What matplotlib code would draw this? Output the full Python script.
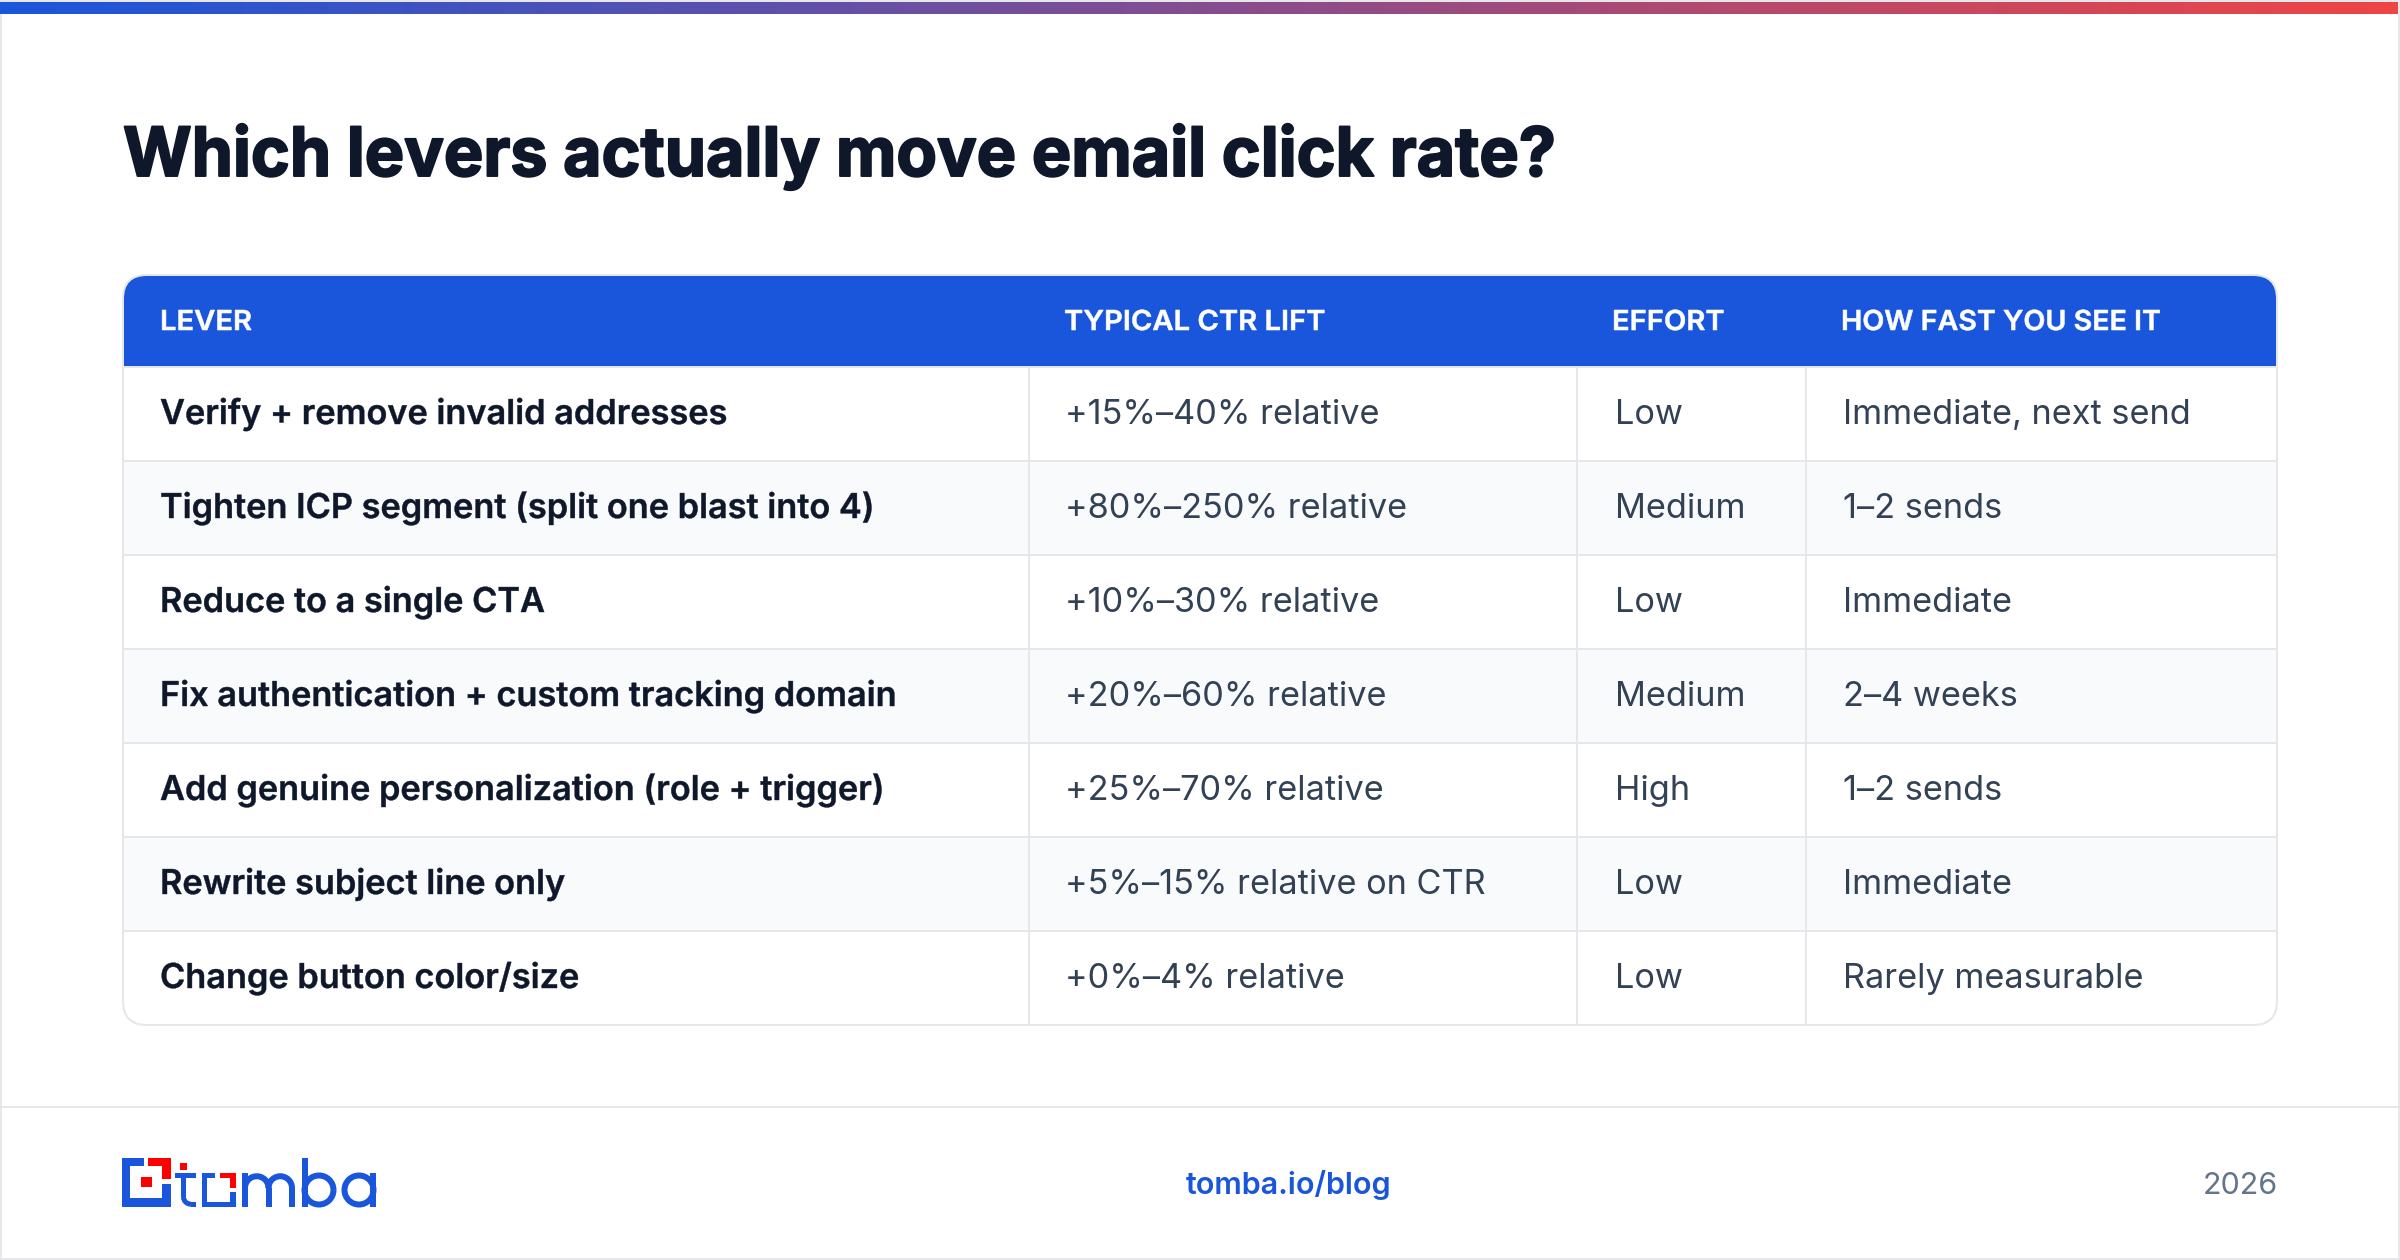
import matplotlib
matplotlib.use("Agg")
import matplotlib.pyplot as plt
import numpy as np
from matplotlib.colors import LinearSegmentedColormap
from matplotlib.patches import FancyBboxPatch, Rectangle, Arc
from matplotlib.patheffects import AbstractPathEffect
from matplotlib.transforms import Affine2D

plt.rcParams["font.family"] = ["Inter", "DejaVu Sans"]

title = "Which levers actually move email click rate?"
headers = ["LEVER", "TYPICAL CTR LIFT", "EFFORT", "HOW FAST YOU SEE IT"]
levers = [
    "Verify + remove invalid addresses",
    "Tighten ICP segment (split one blast into 4)",
    "Reduce to a single CTA",
    "Fix authentication + custom tracking domain",
    "Add genuine personalization (role + trigger)",
    "Rewrite subject line only",
    "Change button color/size",
]
lifts = [
    "+15%–40% relative",
    "+80%–250% relative",
    "+10%–30% relative",
    "+20%–60% relative",
    "+25%–70% relative",
    "+5%–15% relative on CTR",
    "+0%–4% relative",
]
efforts = ["Low", "Medium", "Low", "Medium", "High", "Low", "Low"]
speeds = [
    "Immediate, next send",
    "1–2 sends",
    "Immediate",
    "2–4 weeks",
    "1–2 sends",
    "Immediate",
    "Rarely measurable",
]

BLUE = "#1a56db"
RED = "#ff0000"
LINE = "#e5e7eb"
DARK = "#0f172a"
BODY = "#334155"
MUTED = "#64748b"
px = 0.72  # points per pixel at dpi 100


class StretchX(AbstractPathEffect):
    """Widen or narrow a text about x0; stands in for CSS letter-spacing."""

    def __init__(self, sx, x0, bolder=0):
        super().__init__()
        self.sx, self.x0, self.bolder = sx, x0, bolder

    def draw_path(self, renderer, gc, tpath, affine, rgbFace=None):
        squeeze = affine + Affine2D().translate(-self.x0, 0).scale(self.sx, 1).translate(self.x0, 0)
        if self.bolder:
            gc0 = renderer.new_gc()
            gc0.copy_properties(gc)
            gc0.set_linewidth(self.bolder)
            gc0.set_foreground(rgbFace)
            renderer.draw_path(gc0, tpath, squeeze, rgbFace)
            gc0.restore()
        else:
            renderer.draw_path(gc, tpath, squeeze, rgbFace)


fig = plt.figure(figsize=(24, 12.6), dpi=100, facecolor="white")
ax = fig.add_axes([0, 0, 1, 1])

# page frame and top gradient
ax.add_patch(Rectangle((1, 1), 2398, 1258, fc="none", ec=LINE, lw=2 * px))
cmap = LinearSegmentedColormap.from_list("bar", [BLUE, "#ef4444"])
ax.imshow(np.linspace(0, 1, 512)[None, :], cmap=cmap, aspect="auto",
          extent=(0, 2398, 14, 2), zorder=2)
ax.set_xlim(0, 2400)
ax.set_ylim(1260, 0)
ax.axis("off")

t = ax.text(123, 176, title, fontsize=68 * px, fontweight="bold", color=DARK, va="baseline")
t.set_path_effects([StretchX(0.974, 123, bolder=1.4)])

# table
left, right, top, bottom = 123, 2277, 275, 1025
head_bottom = 366
row_h = 94
col_x = [left, 1029, 1577, 1806]
head_x = [160, 1064, 1612, 1841]
head_sx = [1.06, 1.06, 1.06, 1.04]
cell_x = [160, 1065, 1615, 1843]
body_size = 34.3 * px

card = FancyBboxPatch((left, top), right - left, bottom - top,
                      boxstyle="round,pad=0,rounding_size=24", fc="white", ec="none", zorder=1)
ax.add_patch(card)

header = Rectangle((left, top), right - left, head_bottom - top, fc=BLUE, ec="none", zorder=2)
ax.add_patch(header)
header.set_clip_path(card)

for i in range(len(levers)):
    y0 = head_bottom + i * row_h
    if i % 2 == 1:
        ax.add_patch(Rectangle((left, y0), right - left, row_h, fc="#f8fafc", ec="none", zorder=2))
    ax.plot([left, right], [y0 + 1, y0 + 1], color=LINE, lw=2 * px, zorder=3, solid_capstyle="butt")
    base = y0 + 58
    lab = ax.text(cell_x[0], base, levers[i], fontsize=body_size, fontweight="semibold", color=DARK, zorder=5)
    lab.set_path_effects([StretchX(1.0, cell_x[0], bolder=0.3)])
    ax.text(cell_x[1], base, lifts[i], fontsize=body_size, color=BODY, zorder=5)
    ax.text(cell_x[2], base, efforts[i], fontsize=body_size, color=BODY, zorder=5)
    ax.text(cell_x[3], base, speeds[i], fontsize=body_size, color=BODY, zorder=5)

for x in col_x[1:]:
    ax.plot([x, x], [head_bottom, bottom], color=LINE, lw=2 * px, zorder=3, solid_capstyle="butt")

for x, sx, label in zip(head_x, head_sx, headers):
    h = ax.text(x, 330, label, fontsize=27.5 * px, fontweight="semibold", color="white", zorder=5)
    h.set_path_effects([StretchX(sx, x, bolder=0.4)])

ax.add_patch(FancyBboxPatch((left, top), right - left, bottom - top,
                            boxstyle="round,pad=0,rounding_size=24", fc="none", ec=LINE, lw=2 * px, zorder=4))

# footer
ax.plot([2, 2398], [1107, 1107], color=LINE, lw=2 * px, solid_capstyle="butt")
ax.text(1289, 1194, "tomba.io/blog", fontsize=30.5 * px, fontweight="semibold", color=BLUE, ha="center")
ax.text(2278, 1194, "2026", fontsize=30.5 * px, color=MUTED, ha="right")

# logo
logo_blue = [
    (122, 1158, 8, 48.7), (122, 1158, 22, 8), (122, 1198, 48.7, 8.7), (162, 1184, 8.7, 22.7),
    (181, 1173, 5, 24), (175, 1173, 21, 4.5), (191, 1201.7, 5, 5),
    (202, 1173, 5, 33.7), (202, 1173, 13, 5), (202, 1201.7, 33.7, 5), (230, 1192, 5.7, 14.7),
]
logo_red = [
    (148, 1158, 22.7, 8), (162, 1158, 8.7, 21), (141, 1177, 11, 10),
    (180, 1163, 7, 7), (220, 1173, 15.7, 5), (230, 1173, 5.7, 15),
]
for x, y, w, h in logo_blue:
    ax.add_patch(Rectangle((x, y), w, h, fc=BLUE, ec="none", zorder=3))
for x, y, w, h in logo_red:
    ax.add_patch(Rectangle((x, y), w, h, fc=RED, ec="none", zorder=3))
ax.add_patch(Arc((191, 1197), 15, 14.4, theta1=90, theta2=180, color=BLUE, lw=5 * px, zorder=3))

stroke = 6 * px
for xs, ys in [([245, 245], [1173, 1206.7]), ([268.5, 268.5], [1188, 1206.7]), ([292, 292], [1188, 1206.7]),
               ([305, 305], [1158, 1206.7]), ([373, 373], [1173, 1206.7])]:
    ax.plot(xs, ys, color=BLUE, lw=stroke, solid_capstyle="butt", zorder=3)
for cx in [256.75, 280.25]:
    ax.add_patch(Arc((cx, 1188), 23.5, 23.5, theta1=180, theta2=360, color=BLUE, lw=stroke, zorder=3))
for cx in [319, 359]:
    ax.add_patch(Arc((cx, 1190), 29, 29, color=BLUE, lw=stroke, zorder=3))

fig.savefig("out.png", dpi=100)
